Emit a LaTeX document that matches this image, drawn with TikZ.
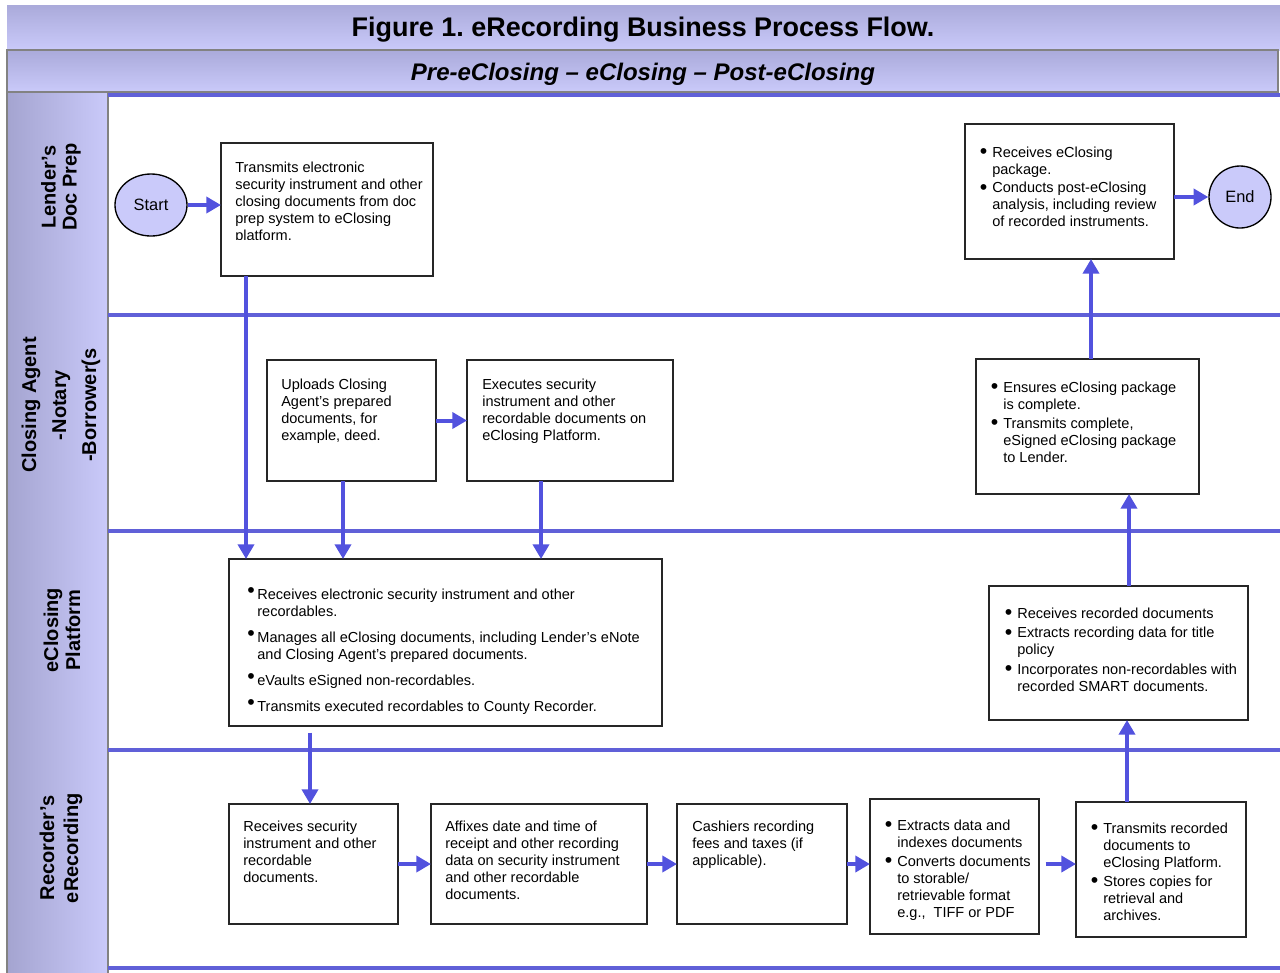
\documentclass[tikz,border=0pt]{standalone}
\usepackage{fontspec}
\setmainfont{Liberation Sans}
\usetikzlibrary{arrows.meta,calc,shapes.geometric}
\definecolor{lanec}{RGB}{96,96,216}
\definecolor{arrc}{RGB}{82,82,222}
\definecolor{lavl}{RGB}{202,202,250}
\definecolor{lavd}{RGB}{164,164,208}
\definecolor{bandtop}{RGB}{170,170,218}
\definecolor{bordc}{RGB}{130,130,130}
\newcommand\bigbul{{\fontsize{16}{16}\selectfont\textbullet}}
\newcommand\bul{\makebox[9.4pt][l]{\raisebox{-1.2pt}{\bigbul}}}
\newcommand\pbul{\makebox[7.6pt][l]{\raisebox{1.6pt}{\bigbul}}}
\newcommand\plainlines[1]{\begin{tabular}{@{}l@{}}#1\end{tabular}}
\newcommand\bulllines[1]{\begin{tabular}{@{}l@{}l@{}}#1\end{tabular}}
\newcommand\mkbox[5]{\node[boxst, minimum width=\dimexpr 0.75pt*(#4-#2)\relax, minimum height=\dimexpr 0.75pt*(#5-#3)\relax] (#1) at (#2,#3) {};}
\frenchspacing
\begin{document}
\begin{tikzpicture}[x=0.75pt,y=-0.75pt,
  boxst/.style={draw=black!85, line width=0.9pt, fill=white, inner sep=0pt, outer sep=0pt, anchor=north west},
  txt/.style={inner sep=0pt, anchor=north west, font=\fontsize{10.9}{12.75}\selectfont},
  arr/.style={draw=arrc, line width=3pt, -{Triangle[length=11pt,width=12pt]}},
  laneline/.style={draw=lanec, line width=3.6pt},
  lanelab/.style={rotate=90, font=\bfseries\fontsize{15}{#1}\selectfont, align=center, inner sep=0pt},
  term/.style={draw=black, line width=1pt, fill=lavl, inner sep=0pt, font=\fontsize{12.3}{14}\selectfont}]
\useasboundingbox (0,0) rectangle (1280,972);
% bands
\shade[top color=bandtop, bottom color=lavl] (7,5) rectangle (1280,50);
\shadedraw[top color=bandtop, bottom color=lavl, draw=bordc, line width=1.5pt] (7,50) rectangle (1278,92);
\shadedraw[left color=lavd, right color=lavl, draw=bordc, line width=1.5pt] (7,92) rectangle (108,980);
\node[font=\bfseries\fontsize{20.2}{24}\selectfont] (title) at (643,30) {Figure 1. eRecording Business Process Flow.};
\node[font=\bfseries\itshape\fontsize{18}{22}\selectfont] (subtitle) at (643,74) {Pre-eClosing – eClosing – Post-eClosing};
% lane lines
\draw[draw=lanec, line width=3pt] (108,95) -- (1280,95);
\draw[laneline] (108,315) -- (1280,315);
\draw[laneline] (108,531) -- (1280,531);
\draw[laneline] (108,750) -- (1280,750);
\draw[laneline] (108,968) -- (1280,968);
% lane labels
\node[lanelab=15.75pt] (lab1) at (61,187) {Lender’s\\Doc Prep};
\node[lanelab=22.5pt] (lab2) at (61,405) {Closing Agent\\-Notary\\-Borrower(s};
\node[lanelab=16.5pt] (lab3) at (62,630) {eClosing\\Platform};
\node[lanelab=18pt] (lab4) at (61,848) {Recorder’s\\eRecording};
% boxes
\mkbox{trans}{221}{143}{433}{276}
\mkbox{rec}{965}{124}{1174}{259}
\mkbox{up}{267}{360}{436}{481}
\mkbox{ex}{467}{360}{673}{481}
\mkbox{ens}{976}{359}{1199}{494}
\mkbox{plat}{229}{559}{662}{726}
\mkbox{rr}{989}{586}{1248}{720}
\mkbox{rs}{229}{804}{398}{924}
\mkbox{af}{431}{804}{647}{924}
\mkbox{cash}{677}{804}{847}{924}
\mkbox{ext}{870}{799}{1039}{934}
\mkbox{tr}{1076}{802}{1246}{937}
\node[term, ellipse, minimum width=54pt, minimum height=46.5pt] (start) at (151,205) {Start};
\node[term, circle, minimum size=46.5pt] (endc) at (1240,197) {End};
% texts
\begin{scope}
\clip (221,143) rectangle (433,239);
\node[txt] (t-trans) at (235,160) {\plainlines{Transmits electronic\\security instrument and other\\closing documents from doc\\prep system to eClosing\\platform.}};
\end{scope}
\node[txt] (t-rec) at (979.5,145) {\bulllines{\bul & Receives eClosing\\ & package.\\[1pt] \bul & Conducts post-eClosing\\ & analysis, including review\\ & of recorded instruments.}};
\node[txt] (t-up) at (281,377) {\plainlines{Uploads Closing\\Agent’s prepared\\documents, for\\example, deed.}};
\node[txt] (t-ex) at (482,377) {\plainlines{Executes security\\instrument and other\\recordable documents on\\eClosing Platform.}};
\node[txt] (t-ens) at (990.5,380) {\bulllines{\bul & Ensures eClosing package\\ & is complete.\\[1.5pt] \bul & Transmits complete,\\ & eSigned eClosing package\\ & to Lender.}};
\node[txt] (t-plat) at (247,587) {\bulllines{\pbul & Receives electronic security instrument and other\\ & recordables.\\[6.75pt] \pbul & Manages all eClosing documents, including Lender’s eNote\\ & and Closing Agent’s prepared documents.\\[6.75pt] \pbul & eVaults eSigned non-recordables.\\[6.75pt] \pbul & Transmits executed recordables to County Recorder.}};
\node[txt] (t-rr) at (1004.5,606) {\bulllines{\bul & Receives recorded documents\\[1.9pt] \bul & Extracts recording data for title\\ & policy\\[1.9pt] \bul & Incorporates non-recordables with\\ & recorded SMART documents.}};
\node[txt] (t-rs) at (243,819) {\plainlines{Receives security\\instrument and other\\recordable\\documents.}};
\node[txt] (t-af) at (445,819) {\plainlines{Affixes date and time of\\receipt and other recording\\data on security instrument\\and other recordable\\documents.}};
\node[txt] (t-cash) at (692,819) {\plainlines{Cashiers recording\\fees and taxes (if\\applicable).}};
\node[txt] (t-ext) at (884.5,818) {\bulllines{\bul & Extracts data and\\ & indexes documents\\[1.5pt] \bul & Converts documents\\ & to storable/\\ & retrievable format\\ & e.g.,\ \ TIFF or PDF}};
\node[txt] (t-tr) at (1090.5,821) {\bulllines{\bul & Transmits recorded\\ & documents to\\ & eClosing Platform.\\[1.5pt] \bul & Stores copies for\\ & retrieval and\\ & archives.}};
% arrows
\draw[arr] (start.east) -- (trans.west |- start.east);
\draw[arr] (trans.south -| 246,0) -- (plat.north -| 246,0);
\draw[arr] (up.south -| 343,0) -- (plat.north -| 343,0);
\draw[arr] (ex.south -| 541,0) -- (plat.north -| 541,0);
\draw[arr] (up.east) -- (ex.west);
\draw[arr, shorten <=5pt] (plat.south -| 310,0) -- (rs.north -| 310,0);
\draw[arr] (rs.east) -- (af.west);
\draw[arr] (af.east) -- (cash.west);
\draw[arr] (cash.east) -- (ext.west |- cash.east);
\draw[arr, shorten <=5pt] (cash.east -| ext.east) -- (cash.east -| tr.west);
\draw[arr] (tr.north -| 1127,0) -- (rr.south -| 1127,0);
\draw[arr] (rr.north -| 1129,0) -- (ens.south -| 1129,0);
\draw[arr] (ens.north -| 1091,0) -- (rec.south -| 1091,0);
\draw[arr] (rec.east |- endc.west) -- (endc.west);
\end{tikzpicture}
\end{document}
